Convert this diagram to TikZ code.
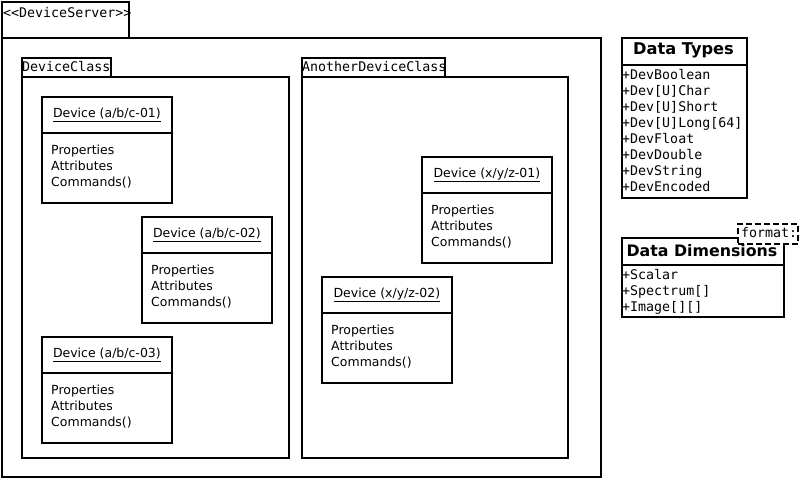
\documentclass[tikz,border=0pt]{standalone}
\usepackage{fontspec}
\setmainfont{DejaVu Sans}
\setmonofont{DejaVu Sans Mono}
\newcommand\mysans{\fontsize{12.5}{16}\selectfont}
\newcommand\mymono{\ttfamily\fontsize{13.3}{16}\selectfont}
\newcommand\devbox[5]{%
  \node[frame, anchor=north west, minimum width=130, minimum height=106] (#1) at (#2,#3) {};
  \draw[line width=1.8pt] ([yshift=-37pt]#1.north west) -- ([yshift=-37pt]#1.north east);
  \node[font=\mysans, inner sep=0] (#1t) at ([yshift=-19pt]#1.north) {\underline{#4}};
  \node[font=\mysans, inner sep=0, anchor=north west, align=left] (#1b) at ([xshift=10pt,yshift=-49pt]#1.north west) {Properties\\Attributes\\Commands()};
}
\begin{document}
\begin{tikzpicture}[x=1pt,y=-1pt,
  frame/.style={draw, line width=1.8pt, fill=white, inner sep=0},
  tabtext/.style={font=\mymono, inner sep=0, anchor=west}]
\useasboundingbox (0,0) rectangle (800,478);
% Device server
\node[frame, anchor=north west, minimum width=127, minimum height=36] (srvtab) at (1,1) {};
\node[tabtext] (srvlbl) at (3,13) {<{}<DeviceServer>{}>};
\node[frame, anchor=north west, minimum width=599, minimum height=439] (srv) at (1,37) {};
% DeviceClass
\node[frame, anchor=north west, minimum width=89, minimum height=19] (dctab) at (21,57) {};
\node[tabtext] (dclbl) at (22,67) {DeviceClass};
\node[frame, anchor=north west, minimum width=267, minimum height=381] (dc) at (21,76) {};
% AnotherDeviceClass
\node[frame, anchor=north west, minimum width=143, minimum height=19] (adtab) at (301,57) {};
\node[tabtext] (adlbl) at (302,67) {AnotherDeviceClass};
\node[frame, anchor=north west, minimum width=266, minimum height=381] (ad) at (301,76) {};
% devices
\devbox{d1}{41}{96}{Device (a/b/c-01)}{}
\devbox{d2}{141}{216}{Device (a/b/c-02)}{}
\devbox{d3}{41}{336}{Device (a/b/c-03)}{}
\devbox{d4}{421}{156}{Device (x/y/z-01)}{}
\devbox{d5}{321}{276}{Device (x/y/z-02)}{}
% Data Types
\node[frame, anchor=north west, minimum width=125, minimum height=160] (dt) at (621,37) {};
\draw[line width=1.8pt] (dt.north west |- 0,65) -- (dt.north east |- 0,65);
\node[font=\bfseries\fontsize{16.2}{18}\selectfont, inner sep=0] (dtt) at (683.5,50) {Data Types};
\node[font=\mymono, inner sep=0, anchor=north west, align=left] (dtb) at (622,69) {+DevBoolean\\+Dev[U]Char\\+Dev[U]Short\\+Dev[U]Long[64]\\+DevFloat\\+DevDouble\\+DevString\\+DevEncoded};
% Data Dimensions
\node[frame, anchor=north west, minimum width=162, minimum height=79] (dd) at (621,237) {};
\draw[line width=1.8pt] (dd.north west |- 0,265) -- (dd.north east |- 0,265);
\node[font=\bfseries\fontsize{15.8}{18}\selectfont, inner sep=0] (ddt) at (702,251) {Data Dimensions};
\node[font=\mymono, inner sep=0, anchor=north west, align=left] (ddb) at (622,269) {+Scalar\\+Spectrum[]\\+Image[][]};
\node[draw, dash pattern=on 6pt off 3pt, line width=1.8pt, fill=white, inner sep=0, anchor=north west, minimum width=60, minimum height=20] (fmt) at (737,223) {};
\node[tabtext] (fmtl) at (741,233) {format:};
\end{tikzpicture}
\end{document}
